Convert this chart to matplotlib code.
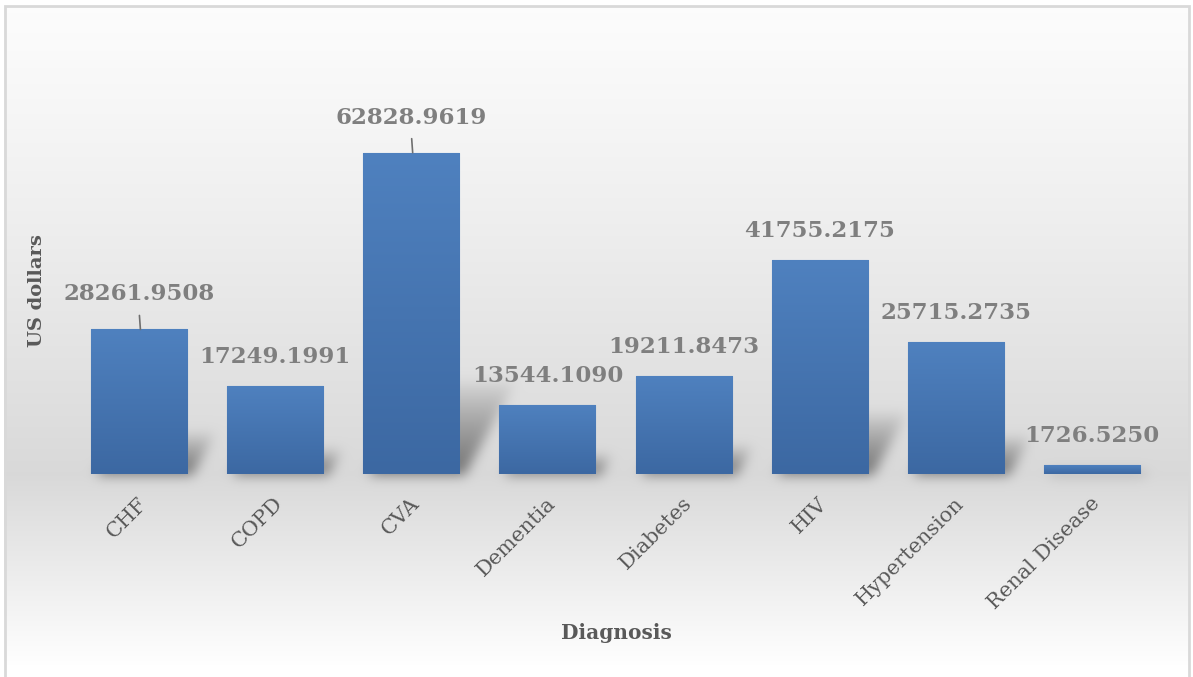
import numpy as np
import matplotlib.pyplot as plt
from matplotlib.patches import Rectangle
from matplotlib.colors import LinearSegmentedColormap
from matplotlib.transforms import ScaledTranslation

diagnoses = ["CHF", "COPD", "CVA", "Dementia", "Diabetes", "HIV",
             "Hypertension", "Renal Disease"]
costs = [28261.9508, 17249.1991, 62828.9619, 13544.1090, 19211.8473,
         41755.2175, 25715.2735, 1726.5250]
# labels that were dragged up and get a leader line
moved_labels = ["CHF", "CVA"]

W, H = 1193, 677
fig = plt.figure(figsize=(W / 100, H / 100), dpi=100)

ax = fig.add_axes([71 / W, 1 - 474 / H, (1160 - 71) / W, (474 - 116) / H])
ax.set_xlim(-0.5, len(diagnoses) - 0.5)
ax.set_ylim(0, 70000)
ax.patch.set_alpha(0)

x = np.arange(len(diagnoses))
width = 0.706

bars = ax.bar(x, costs, width=width, color="#4677b4", edgecolor="#5b8bc8",
              linewidth=0.8, zorder=3)

# vertical gradient on every bar, clipped to the bar outline
grad_cmap = LinearSegmentedColormap.from_list("bar", ["#3c68a2", "#4f81bf"])
grad = np.linspace(0, 1, 256).reshape(-1, 1)
for b in bars:
    im = ax.imshow(grad, cmap=grad_cmap, aspect="auto", origin="lower",
                   extent=[b.get_x(), b.get_x() + b.get_width(), 0, b.get_height()],
                   zorder=3.5, interpolation="bicubic")
    im.set_clip_path(b)
ax.set_xlim(-0.5, len(diagnoses) - 0.5)
ax.set_ylim(0, 70000)

# value labels
for name, xi, v in zip(diagnoses, x, costs):
    lift = 24 if name in moved_labels else 18
    ax.annotate(f"{v:.4f}", (xi, v), xytext=(0, lift), textcoords="offset pixels",
                ha="center", va="bottom", fontsize=16.5, fontweight="bold",
                family="DejaVu Serif", color="#7f7f7f", zorder=5)
    if name in moved_labels:
        ax.annotate("", (xi + 0.01, v), xytext=(-1, 14), textcoords="offset pixels",
                    arrowprops=dict(arrowstyle="-", color="#6f6f6f", lw=1.2,
                                    shrinkA=0, shrinkB=0), zorder=5)

ax.set_xticks(x)
ax.set_xticklabels(diagnoses, rotation=45, ha="right", va="center",
                   rotation_mode="anchor", fontsize=15, family="DejaVu Serif",
                   color="#595959")
ax.tick_params(axis="x", length=0, pad=19)
shift = ScaledTranslation(5 / 100, 0, fig.dpi_scale_trans)
for lbl in ax.get_xticklabels():
    lbl.set_transform(lbl.get_transform() + shift)
ax.set_yticks([])
for s in ax.spines.values():
    s.set_visible(False)

fig.text(616 / W, 1 - 633 / H, "Diagnosis", ha="center", va="center",
         fontsize=14.5, fontweight="bold", family="DejaVu Serif", color="#595959")
fig.text(37 / W, 1 - 291 / H, "US dollars", ha="center", va="center",
         rotation=90, fontsize=14, fontweight="bold", family="DejaVu Serif",
         color="#595959")

# background: white -> grey at the baseline -> white, plus soft bar shadows
rows = np.arange(H)
base_row = 474
shade = np.where(rows <= base_row,
                 0.99 - 0.14 * (rows / base_row) ** 1.2,
                 0.85 + 0.15 * np.clip((rows - base_row) / (665 - base_row), 0, 1))
bg = np.repeat(shade[:, None], W, axis=1)

shadow = np.zeros((H, W))
cols = np.arange(W)
for b in bars:
    (px0, py0), (px1, py1) = ax.transData.transform(
        [(b.get_x(), 0), (b.get_x() + b.get_width(), b.get_height())])
    r0, r1 = H - py0, H - py1
    hs = 0.3 * (r0 - r1)
    for r in range(int(r0 - hs), int(r0) + 1):
        d = r0 - r
        if d < 0 or d > hs:
            continue
        a = 0.95 * (1 - d / hs) ** 0.8
        off = 5 + 0.55 * d
        m = (cols >= px0 + off) & (cols <= px1 + off)
        shadow[r, m] = np.maximum(shadow[r, m], a)


def blur(img, sigma):
    k = np.arange(-3 * sigma, 3 * sigma + 1)
    k = np.exp(-k ** 2 / (2 * sigma ** 2))
    k /= k.sum()
    img = np.apply_along_axis(lambda v: np.convolve(v, k, mode="same"), 1, img)
    return np.apply_along_axis(lambda v: np.convolve(v, k, mode="same"), 0, img)


shadow = blur(shadow, 6)
bg = np.clip(bg * (1 - 0.5 * shadow), 0, 1)
bg[:6, :] = 1.0
bg[:, :4] = 1.0
bg[:, 1190:] = 1.0

bg_ax = fig.add_axes([0, 0, 1, 1], zorder=-10)
bg_ax.imshow(np.dstack([bg] * 3), aspect="auto", interpolation="bilinear",
             extent=[0, W, H, 0])
bg_ax.set_xlim(0, W)
bg_ax.set_ylim(H, 0)
bg_ax.axis("off")

# thin outer frame of the chart area
fig.patches.append(Rectangle((5 / W, -0.01), (1189 - 5) / W, 1 - 6 / H + 0.01,
                             transform=fig.transFigure, fill=False,
                             edgecolor="#d9d9d9", linewidth=2))

fig.savefig("out.png", dpi=100)
